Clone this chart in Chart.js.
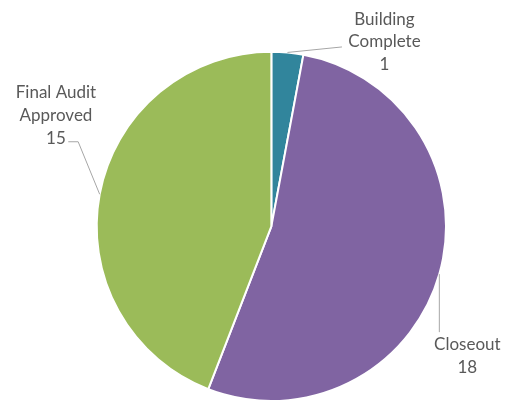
<!DOCTYPE html>
<html>
<head>
<meta charset="utf-8">
<script src="https://cdn.jsdelivr.net/npm/chart.js@4.4.1/dist/chart.umd.min.js"></script>
<style>
    html, body { margin: 0; padding: 0; background: #fff; }
    #wrap { width: 517px; height: 402px; position: relative; }
</style>
</head>
<body>
<div id="wrap"><canvas id="pieChart"></canvas></div>
<script>
// --- Data ---
const categories = ['Building Complete', 'Closeout', 'Final Audit Approved'];
const labelLines = [['Building', 'Complete'], ['Closeout'], ['Final Audit', 'Approved']];
const counts = [1, 18, 15];
const sliceColors = ['#31859C', '#8064A2', '#9BBB59'];

// label placement relative to the slice edge point (leader path + text block centre)
const labelLayout = [
    { leader: [[54.5, -5.5]], text: [97, -10.5] },
    { leader: [[0, 58]], text: [28, 81.7] },
    { leader: [[-21.5, -52.5], [-31.4, -52.5]], text: [-43.7, -78.8] }
];

const LINE_H = 22.8;

const pieLabels = {
    id: 'pieLabels',
    afterDatasetsDraw(chart) {
        const ctx = chart.ctx;
        const meta = chart.getDatasetMeta(0);
        ctx.save();
        meta.data.forEach((arc, i) => {
            const mid = (arc.startAngle + arc.endAngle) / 2;
            const ex = arc.x + Math.cos(mid) * arc.outerRadius;
            const ey = arc.y + Math.sin(mid) * arc.outerRadius;
            const lay = labelLayout[i];

            ctx.strokeStyle = '#A6A6A6';
            ctx.lineWidth = 1;
            ctx.beginPath();
            ctx.moveTo(ex, ey);
            lay.leader.forEach(p => ctx.lineTo(ex + p[0], ey + p[1]));
            ctx.stroke();

            const lines = labelLines[i].concat([String(counts[i])]);
            const cx = ex + lay.text[0];
            const cy = ey + lay.text[1];
            ctx.fillStyle = '#595959';
            ctx.font = '17px Lato';
            ctx.textAlign = 'center';
            ctx.textBaseline = 'middle';
            const top = cy - (lines.length - 1) * LINE_H / 2;
            lines.forEach((t, k) => ctx.fillText(t, cx, top + k * LINE_H));
        });
        ctx.restore();
    }
};

new Chart(document.getElementById('pieChart'), {
    type: 'pie',
    data: {
        labels: categories,
        datasets: [{
            data: counts,
            backgroundColor: sliceColors,
            borderColor: '#ffffff',
            borderWidth: 2
        }]
    },
    options: {
        responsive: true,
        maintainAspectRatio: false,
        animation: false,
        layout: { padding: { left: 95.7, right: 70, top: 50.7, bottom: 0 } },
        plugins: {
            legend: { display: false },
            tooltip: { enabled: false }
        }
    },
    plugins: [pieLabels]
});
</script>
</body>
</html>
